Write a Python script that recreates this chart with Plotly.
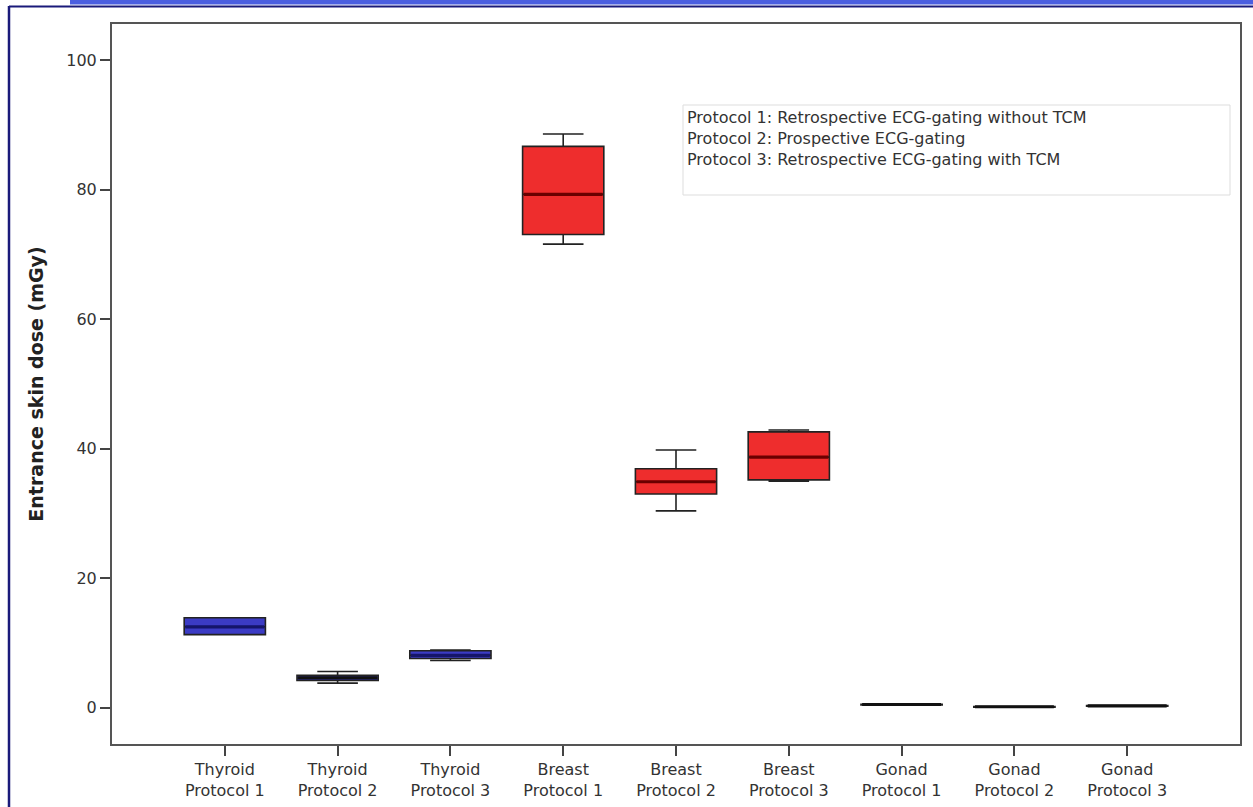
import plotly.graph_objects as go

categories = ["Thyroid<br>Protocol 1", "Thyroid<br>Protocol 2", "Thyroid<br>Protocol 3",
              "Breast<br>Protocol 1", "Breast<br>Protocol 2", "Breast<br>Protocol 3",
              "Gonad<br>Protocol 1", "Gonad<br>Protocol 2", "Gonad<br>Protocol 3"]
lower_whisker = [11.3, 3.8, 7.3, 71.6, 30.4, 35.0, 0.45, 0.1, 0.25]
q1 = [11.3, 4.2, 7.6, 73.1, 33.0, 35.2, 0.45, 0.1, 0.25]
median = [12.5, 4.6, 8.1, 79.3, 34.9, 38.7, 0.5, 0.15, 0.3]
q3 = [13.9, 5.0, 8.8, 86.7, 36.9, 42.6, 0.55, 0.2, 0.35]
upper_whisker = [13.9, 5.6, 8.9, 88.6, 39.8, 42.9, 0.55, 0.2, 0.35]
fill_colors = ["#3b3bc4", "#3b3bc4", "#3b3bc4", "#ee2d2d", "#ee2d2d", "#ee2d2d", "#222222", "#222222", "#222222"]
median_colors = ["#15156a", "#111111", "#15156a", "#6a0000", "#6a0000", "#6a0000", "#111111", "#111111", "#111111"]
y_ticks = [0, 20, 40, 60, 80, 100]
legend_lines = ["Protocol 1: Retrospective ECG-gating without TCM",
                "Protocol 2: Prospective ECG-gating",
                "Protocol 3: Retrospective ECG-gating with TCM"]

FONT = "DejaVu Sans, Liberation Sans, Arial"

fig = go.Figure()
for i in range(len(categories)):
    fig.add_trace(go.Box(
        x=[i], q1=[q1[i]], median=[median[i]], q3=[q3[i]],
        lowerfence=[lower_whisker[i]], upperfence=[upper_whisker[i]],
        width=0.72, whiskerwidth=0.5,
        fillcolor=fill_colors[i], line=dict(color="#222222", width=1.6),
        boxpoints=False, showlegend=False, hoverinfo="skip"))
    fig.add_trace(go.Scatter(
        x=[i - 0.35, i + 0.35], y=[median[i], median[i]], mode="lines",
        line=dict(color=median_colors[i], width=3.2), showlegend=False, hoverinfo="skip"))

W, H = 1253, 807
L, R, T, B = 112, 13, 24, 63
pw, ph = W - L - R, H - T - B

def px(x):
    return (x - L) / pw

def py(y):
    return (H - B - y) / ph

shapes = [
    dict(type="line", xref="paper", yref="paper", x0=px(9), x1=px(9), y0=py(6), y1=py(807),
         line=dict(color="#1a1a7a", width=2.5)),
    dict(type="line", xref="paper", yref="paper", x0=px(9), x1=px(1253), y0=py(6.5), y1=py(6.5),
         line=dict(color="#1a1a7a", width=2)),
    dict(type="rect", xref="paper", yref="paper", x0=px(70), x1=px(1253), y0=py(0), y1=py(4.5),
         line=dict(width=0), fillcolor="#4a5ee0"),
    dict(type="rect", xref="paper", yref="paper", x0=px(683), x1=px(1230), y0=py(105), y1=py(195),
         line=dict(color="#dddddd", width=1), fillcolor="rgba(0,0,0,0)"),
]

fig.add_annotation(xref="paper", yref="paper", x=px(685), y=py(106), xanchor="left", yanchor="top",
                   align="left", showarrow=False, text="<br>".join(legend_lines),
                   font=dict(family=FONT, size=16, color="#333333"))

fig.update_layout(
    width=W, height=H,
    margin=dict(l=L, r=R, t=T, b=B, autoexpand=False),
    paper_bgcolor="white", plot_bgcolor="white",
    boxmode="overlay",
    shapes=shapes,
    font=dict(family=FONT, color="#333333"),
    xaxis=dict(range=[-1, 9], tickmode="array", tickvals=list(range(len(categories))),
               ticktext=categories, ticks="outside", ticklen=10, tickwidth=2, tickcolor="#444444",
               showline=True, linecolor="#555555", linewidth=2, mirror=True, automargin=False,
               showgrid=False, zeroline=False, tickfont=dict(family=FONT, size=16, color="#333333")),
    yaxis=dict(range=[-5.6, 105.6], tickmode="array", tickvals=y_ticks,
               ticks="outside", ticklen=10, tickwidth=2, tickcolor="#444444",
               showline=True, linecolor="#555555", linewidth=2, mirror=True, automargin=False,
               showgrid=False, zeroline=False, tickfont=dict(family=FONT, size=16, color="#333333"),
               title=dict(text="<b>Entrance skin dose (mGy)</b>",
                          font=dict(family=FONT, size=19, color="#222222"), standoff=18)),
)

fig.write_html("out.html", config={"displayModeBar": False},
               post_script="document.body.style.margin='0';")
